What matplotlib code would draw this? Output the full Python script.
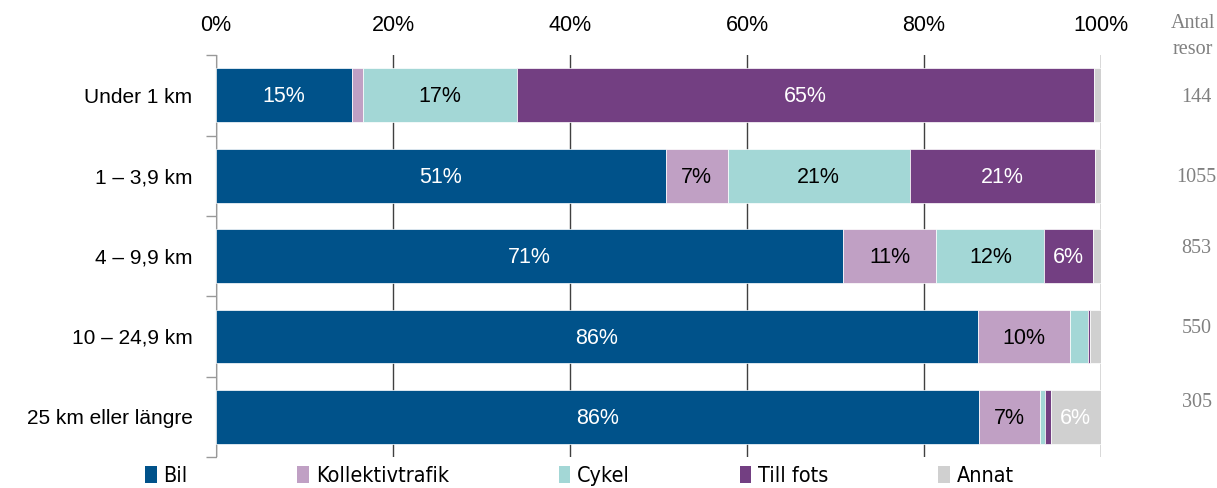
import numpy as np
import matplotlib
matplotlib.use("Agg")
import matplotlib.pyplot as plt
from matplotlib.patches import Patch
from matplotlib.font_manager import FontProperties

"""INPUT DATA"""
categories = ["Under 1 km", "1 – 3,9 km", "4 – 9,9 km", "10 – 24,9 km", "25 km eller längre"]
modes = ["Bil", "Kollektivtrafik", "Cykel", "Till fots", "Annat"]

# share of trips (%) per mode, one value per distance category
bil = [15.4, 50.8, 70.8, 86.1, 86.2]
kollektiv = [1.2, 7.0, 10.6, 10.4, 6.9]
cykel = [17.4, 20.6, 12.2, 2.0, 0.6]
till_fots = [65.2, 20.9, 5.5, 0.2, 0.6]
annat = [0.8, 0.7, 0.9, 1.3, 5.7]

antal_resor = ["144", "1055", "853", "550", "305"]
xticks = [0, 20, 40, 60, 80, 100]

colors = ["#00528A", "#C0A0C4", "#A3D7D6", "#733F82", "#D0D0D0"]
text_colors = ["white", "black", "black", "white", "white"]

plt.rcParams['font.family'] = ['Liberation Sans', 'DejaVu Sans']

fig = plt.figure(figsize=(12.17, 4.88), dpi=100, facecolor='w')
ax = fig.add_axes([0.1775, 0.0635, 0.7272, 0.8235])

y = np.arange(len(categories))
left = np.zeros(len(categories))
series = [bil, kollektiv, cykel, till_fots, annat]
for vals, col, tcol in zip(series, colors, text_colors):
    vals = np.array(vals)
    ax.barh(y, vals, left=left, height=0.67, color=col, edgecolor='white', linewidth=0.5, zorder=3)
    for yi, l, v in zip(y, left, vals):
        if v >= 5:
            ax.text(l + v / 2, yi + 0.02, f"{v:.0f}%", ha='center', va='center',
                    color=tcol, fontsize=15.5, zorder=4)
    left += vals

ax.set_xlim(0, 100)
ax.set_ylim(len(categories) - 0.5, -0.5)

# x axis on top
ax.xaxis.tick_top()
ax.set_xticks(xticks)
ax.set_xticklabels([f"{t}%" for t in xticks], fontsize=15.5)
ax.tick_params(axis='x', length=0, pad=14)
ax.grid(axis='x', color='#404040', lw=1, zorder=1)

# category labels, tick marks between rows
ax.set_yticks(y)
ax.set_yticklabels(categories, fontsize=15)
ax.tick_params(axis='y', which='major', length=0, pad=17)
ax.set_yticks(np.arange(len(categories) + 1) - 0.5, minor=True)
ax.tick_params(axis='y', which='minor', length=7, color='#999999', width=1)

for spine in ('top', 'right', 'bottom'):
    ax.spines[spine].set_visible(False)
ax.spines['left'].set_color('#999999')

# number of trips on the right
serif = ['Liberation Serif', 'DejaVu Serif']
fig.text(0.98, 1 - 24 / 488, "Antal", ha='center', va='center', fontsize=14.5, color='#808080', family=serif)
fig.text(0.98, 1 - 49 / 488, "resor", ha='center', va='center', fontsize=14.5, color='#808080', family=serif)
label_y = [0.03, 1.02, 1.9, 2.9, 3.82]
for ly, n in zip(label_y, antal_resor):
    ax.text(1.108, ly, n, transform=ax.get_yaxis_transform(), ha='center', va='center',
            fontsize=14.5, color='#808080', family=serif)

# legend
leg_font = FontProperties(family='DejaVu Sans', stretch='condensed', size=15.5)
handles = [Patch(facecolor=c, edgecolor='none') for c in colors]
fig.legend(handles, modes, loc='center', bbox_to_anchor=(0.476, 1 - 476 / 488), ncol=5,
           frameon=False, handlelength=0.55, handleheight=0.85, handletextpad=0.3,
           columnspacing=5.1, prop=leg_font)

fig.savefig('out.png', dpi=100)
